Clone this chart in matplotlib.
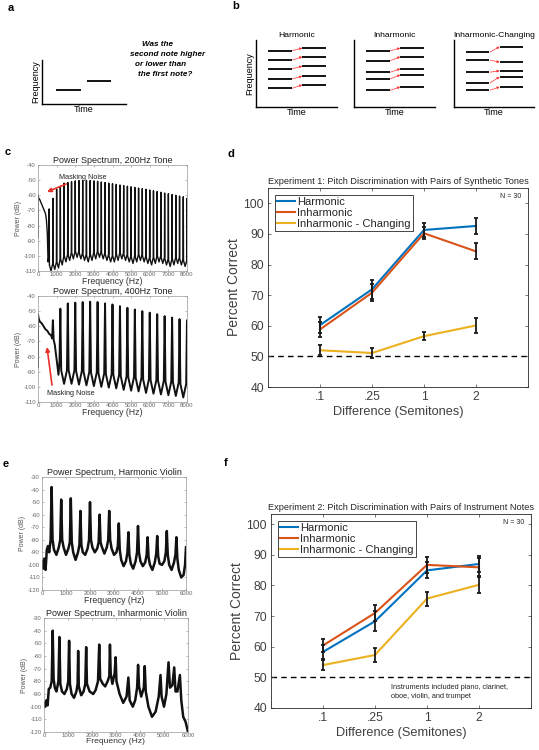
import matplotlib
matplotlib.use('Agg')
import matplotlib.pyplot as plt
import numpy as np

plt.rcParams['font.family'] = ['Liberation Sans', 'DejaVu Sans']
plt.rcParams['axes.unicode_minus'] = False

# ---------------- data ----------------
# panel a: two notes (axis fractions)
note_x0 = [0.17, 0.54]
note_x1 = [0.46, 0.82]
note_y = [0.32, 0.52]

# panel b: partial levels before / after (axis fractions)
schem_titles = ['Harmonic', 'Inharmonic', 'Inharmonic-Changing']
schem_before = [[0.84, 0.70, 0.57, 0.42, 0.28],
                [0.84, 0.69, 0.52, 0.42, 0.25],
                [0.82, 0.70, 0.52, 0.36, 0.25]]
schem_after = [[0.88, 0.75, 0.61, 0.46, 0.33],
               [0.88, 0.75, 0.57, 0.48, 0.30],
               [0.90, 0.67, 0.54, 0.45, 0.30]]

# panel c: 200 Hz tone spectrum
t200_noise_f = [0, 0, 40, 100, 200, 300, 400, 450, 500, 540]
t200_noise_db = [-88, -60, -62, -63, -66, -69, -72, -76, -85, -104]
t200_peak_f = [600, 800, 1000, 1200, 1400, 1600, 1800, 2000, 2200, 2400,
               2600, 2800, 3000, 3200, 3400, 3600, 3800, 4000, 4200, 4400,
               4600, 4800, 5000, 5200, 5400, 5600, 5800, 6000, 6200, 6400,
               6600, 6800, 7000, 7200, 7400, 7600, 7800, 8000]
t200_peak_db = [-69, -62, -56, -54, -52, -51.5, -51, -50.5, -50.3, -50.2,
                -50.2, -50.3, -50.5, -50.8, -51.2, -51.6, -52, -52.4, -52.8, -53.2,
                -53.6, -54, -54.4, -54.8, -55.2, -55.6, -56, -56.5, -57, -57.5,
                -58, -58.5, -59, -59.5, -60, -60.5, -61, -62]
t200_trough_db = [-110, -109, -108, -106, -104, -103, -102, -101, -102, -103,
                  -104, -103, -102, -101, -102, -103, -104, -104, -103, -102,
                  -103, -104, -105, -104, -103, -104, -105, -106, -105, -104,
                  -105, -106, -107, -106, -105, -106, -107, -108]

# panel c: 400 Hz tone spectrum
t400_noise_f = [0, 0, 40, 100, 200, 300, 400, 500, 600, 700, 760, 800, 840, 900, 1000, 1100]
t400_noise_db = [-87, -52, -55, -57, -58, -60, -62, -63, -65, -66, -68, -56, -69, -72, -82, -92]
t400_peak_f = [1200, 1600, 2000, 2400, 2800, 3200, 3600, 4000, 4400, 4800,
               5200, 5600, 6000, 6400, 6800, 7200, 7600, 8000]
t400_peak_db = [-48.4, -44.9, -44.4, -44, -43.8, -44, -44.9, -45.6, -46.7, -47.8,
                -48.9, -50, -51, -52, -53.3, -54.3, -55.3, -56]
t400_trough_db = [-98, -98, -98.5, -99, -99.5, -100, -100.5, -101, -102, -102.5,
                  -103, -104, -104.5, -105, -105.5, -106, -107, -108]

# panel e: violin spectra (traced)
vh_f = [0, 50, 100, 150, 200, 250, 300, 360, 400, 440, 500, 600, 700, 760, 800,
        840, 900, 1000, 1100, 1160, 1200, 1240, 1300, 1400, 1500, 1560, 1600,
        1640, 1700, 1800, 1900, 1960, 2000, 2040, 2100, 2200, 2300, 2360, 2400,
        2440, 2500, 2600, 2700, 2760, 2800, 2840, 2900, 3000, 3100, 3160, 3200,
        3240, 3300, 3400, 3500, 3560, 3600, 3640, 3700, 3800, 3900, 3960, 4000,
        4040, 4100, 4200, 4300, 4360, 4400, 4440, 4500, 4600, 4700, 4760, 4800,
        4840, 4900, 5000, 5100, 5160, 5200, 5240, 5300, 5400, 5500, 5560, 5600,
        5640, 5700, 5800, 5900, 5960, 6000]
vh_db = [-97, -103, -95, -104, -88, -85, -90, -80, -38, -80, -88, -92, -86, -80, -48,
         -80, -86, -92, -87, -82, -47, -82, -90, -96, -90, -84, -57,
         -84, -90, -92, -87, -80, -50, -80, -86, -90, -87, -82, -60,
         -82, -86, -91, -86, -80, -57, -80, -87, -92, -90, -85, -67,
         -88, -96, -101, -97, -90, -74, -92, -99, -103, -97, -90, -69,
         -90, -97, -101, -98, -92, -78, -94, -100, -104, -98, -91, -77,
         -93, -99, -100, -97, -90, -73, -92, -100, -104, -98, -92, -78,
         -95, -104, -110, -108, -100, -86]

vi_f = [0, 50, 100, 150, 200, 260, 320, 363, 400, 450, 520, 600, 642, 680, 750,
        850, 950, 1010, 1046, 1080, 1150, 1250, 1350, 1400, 1423, 1450, 1550,
        1650, 1720, 1757, 1790, 1900, 2050, 2150, 2250, 2301, 2340, 2450, 2550,
        2650, 2720, 2748, 2780, 2850, 2940, 2985, 3020, 3150, 3300, 3440, 3515,
        3570, 3700, 3800, 3880, 3920, 3960, 4050, 4160, 4198, 4240, 4350, 4500,
        4650, 4780, 4854, 4900, 5000, 5100, 5188, 5250, 5350, 5425, 5480, 5560,
        5662, 5720, 5800, 5900, 6000]
vi_db = [-97, -100, -95, -99, -86, -85, -80, -40, -78, -85, -88, -80, -45, -82, -88,
         -90, -86, -80, -48, -82, -90, -93, -88, -82, -56, -84, -91,
         -88, -82, -53, -82, -88, -90, -87, -80, -51, -78, -82, -84,
         -80, -76, -51, -74, -82, -74, -61, -80, -90, -97, -92, -77,
         -95, -100, -95, -85, -67, -84, -92, -85, -68, -88, -100, -108,
         -104, -92, -75, -92, -100, -90, -65, -85, -83, -69, -88, -88,
         -75, -95, -108, -112, -120]

# panels d and f: behavioural results
diff_labels = ['.1', '.25', '1', '2']
series_names = ['Harmonic', 'Inharmonic', 'Inharmonic - Changing']
series_colors = ['#0072BD', '#D95319', '#EDB120']

exp1_mean = [[60.2, 71.9, 91.3, 92.6],
             [58.8, 70.8, 90.2, 84.3],
             [52.0, 51.1, 56.6, 60.1]]
exp1_err = [[2.6, 3.2, 2.2, 2.5],
            [2.5, 2.8, 2.0, 2.6],
            [1.7, 1.6, 1.4, 2.3]]

exp2_mean = [[58.3, 68.3, 84.9, 87.0],
             [60.4, 71.0, 86.7, 85.9],
             [54.0, 57.3, 75.7, 80.2]]
exp2_err = [[2.2, 3.3, 2.6, 2.5],
            [2.0, 2.6, 2.5, 3.0],
            [1.6, 2.2, 2.3, 2.8]]

# ---------------- figure ----------------
W, H = 539, 750
fig = plt.figure(figsize=(W / 100, H / 100), dpi=100)


def add_ax(l, t, r, b):
    return fig.add_axes([l / W, 1 - b / H, (r - l) / W, (b - t) / H])


def schematic(ax):
    ax.set_xlim(0, 1)
    ax.set_ylim(0, 1)
    for s in ['top', 'right']:
        ax.spines[s].set_visible(False)
    for s in ['left', 'bottom']:
        ax.spines[s].set_linewidth(1.0)
    ax.set_xticks([])
    ax.set_yticks([])
    ax.set_facecolor('none')


def panel_label(x, y, s):
    fig.text(x / W, 1 - y / H, s, fontsize=8, fontweight='bold', ha='left', va='center')


# panel a
ax = add_ax(42, 60, 126, 104)
schematic(ax)
ax.hlines(note_y, note_x0, note_x1, color='k', lw=1.3)
ax.set_ylabel('Frequency', fontsize=6.5, labelpad=1)
ax.set_xlabel('Time', fontsize=6.5, labelpad=1)
question = ['Was the', 'second note higher', 'or lower than', 'the first note?']
q_xy = [(142, 44), (130, 54), (135, 64), (138, 75)]
for s, (qx, qy) in zip(question, q_xy):
    fig.text(qx / W, 1 - qy / H, s, fontsize=5.9, fontweight='bold', style='italic',
             ha='left', va='center')

# panel b
b_boxes = [(256, 40, 337, 107), (354, 40, 435, 107), (454, 40, 534, 107)]
for i, box in enumerate(b_boxes):
    ax = add_ax(*box)
    schematic(ax)
    ax.hlines(schem_before[i], 0.15, 0.44, color='k', lw=1.3)
    ax.hlines(schem_after[i], 0.57, 0.86, color='k', lw=1.3)
    for yb, ya in zip(schem_before[i], schem_after[i]):
        ax.annotate('', xy=(0.57, ya), xytext=(0.45, yb),
                    arrowprops=dict(arrowstyle='-|>', color='#ff3030', lw=0.5,
                                    mutation_scale=3.5, shrinkA=0, shrinkB=0))
    ax.set_title(schem_titles[i], fontsize=6.1, pad=2)
    ax.set_xlabel('Time', fontsize=6.5, labelpad=1)
    if i == 0:
        ax.set_ylabel('Frequency', fontsize=6.5, labelpad=1)


def spectrum_style(ax, xmax, xstep, ylo, yhi, xlabelpad=0, xfont=6.3):
    ax.set_xlim(0, xmax)
    ax.set_ylim(ylo, yhi)
    ax.set_xticks(np.arange(0, xmax + 1, xstep))
    ax.set_yticks(np.arange(ylo, yhi + 1, 10))
    ax.tick_params(direction='in', length=1.5, width=0.4, labelsize=4.3,
                   labelcolor='#666666', color='#888888', pad=1.5,
                   top=True, right=True)
    ax.tick_params(axis='x', pad=1)
    for s in ax.spines.values():
        s.set_color('#999999')
        s.set_linewidth(0.5)
    ax.set_xlabel('Frequency (Hz)', fontsize=xfont, color='#333333', labelpad=xlabelpad)
    ax.set_ylabel('Power (dB)', fontsize=5, color='#555555', labelpad=1)


def tone_trace(noise_f, noise_db, peak_f, peak_db, trough_db, half, shoulder, rise):
    # each peak: narrow tip, then a rounded base down to the trough between harmonics
    f = list(noise_f)
    d = list(noise_db)
    prev = noise_db[-1]
    for pf, pd, td in zip(peak_f, peak_db, trough_db):
        f += [pf - shoulder, pf, pf + shoulder, pf + half]
        d += [max(prev, td) + rise, pd, td + rise, td]
        prev = td
    return f, d


# panel c
ax = add_ax(38, 165, 187, 271)
f, d = tone_trace(t200_noise_f, t200_noise_db, t200_peak_f, t200_peak_db,
                  t200_trough_db, 100, 12, 4)
ax.plot(f, d, color='#111111', lw=1.0)
spectrum_style(ax, 8000, 1000, -110, -40)
ax.set_title('Power Spectrum, 200Hz Tone', fontsize=6.5, color='#222222', pad=1.5)
ax.annotate('Masking Noise', xy=(483, -57.8), xytext=(1127, -48),
            fontsize=5.2, color='#222222', va='center', ha='left',
            arrowprops=dict(arrowstyle='-|>', color='#e8312a', lw=1.2,
                            mutation_scale=6, shrinkA=1, shrinkB=0))

ax = add_ax(38, 296, 187, 402)
f, d = tone_trace(t400_noise_f, t400_noise_db, t400_peak_f, t400_peak_db,
                  t400_trough_db, 200, 45, 9)
ax.plot(f, d, color='#111111', lw=1.4)
spectrum_style(ax, 8000, 1000, -110, -40)
ax.set_title('Power Spectrum, 400Hz Tone', fontsize=6.5, color='#222222', pad=1.5)
ax.annotate('', xy=(483, -73.7), xytext=(752, -98.8),
            arrowprops=dict(arrowstyle='-|>', color='#e8312a', lw=1.2,
                            mutation_scale=6, shrinkA=0, shrinkB=0))
ax.text(483, -104.7, 'Masking Noise', fontsize=5.2, color='#222222', va='center', ha='left')

# panel e
ax = add_ax(42, 477, 186, 590)
ax.plot(vh_f, vh_db, color='#111111', lw=1.8)
spectrum_style(ax, 6000, 1000, -120, -30)
ax.set_title('Power Spectrum, Harmonic Violin', fontsize=6.5, color='#222222', pad=1.5)

ax = add_ax(44, 618, 188, 732)
ax.plot(vi_f, vi_db, color='#111111', lw=1.8)
spectrum_style(ax, 6000, 1000, -120, -30, xlabelpad=0, xfont=6.1)
ax.set_title('Power Spectrum, Inharmonic Violin', fontsize=6.5, color='#222222', pad=1.5)


def results(ax, means, errs, title, ytop, note=None):
    x = np.arange(1, len(diff_labels) + 1)
    for m, name, c in zip(means, series_names, series_colors):
        ax.plot(x, m, color=c, lw=1.5, label=name)
    for m, e in zip(means, errs):
        ax.errorbar(x, m, yerr=e, fmt='none', ecolor='#1a1a1a', elinewidth=1.3,
                    capsize=1.5, capthick=1.3, zorder=4)
    ax.axhline(50, color='k', lw=1.0, ls=(0, (4, 3)), zorder=1)
    ax.set_xlim(0, 5)
    ax.set_ylim(40, ytop)
    ax.set_xticks(x)
    ax.set_xticklabels(diff_labels)
    ax.set_yticks(np.arange(40, 101, 10))
    ax.tick_params(direction='in', length=2.5, width=0.5, labelsize=8.7,
                   labelcolor='#404040', color='#404040', top=True, right=True, pad=3)
    for s in ax.spines.values():
        s.set_color('#262626')
        s.set_linewidth(0.6)
    ax.set_ylabel('Percent Correct', fontsize=10, color='#404040', labelpad=2)
    ax.set_xlabel('Difference (Semitones)', fontsize=9.2, color='#404040', labelpad=2)
    ax.set_title(title, fontsize=6.6, color='#262626', pad=3)
    ax.text(0.975, 0.975, 'N = 30', transform=ax.transAxes, fontsize=5,
            ha='right', va='top', color='#262626')
    leg = ax.legend(loc='upper left', bbox_to_anchor=(0.027, 0.966), borderaxespad=0,
                    fontsize=8, handlelength=1.6, handletextpad=0.2, labelspacing=0.1,
                    borderpad=0.2, fancybox=False, framealpha=1, edgecolor='#262626')
    leg.get_frame().set_linewidth(0.6)
    for t in leg.get_texts():
        t.set_color('#262626')
    if note:
        ax.text(0.46, 0.085, note, transform=ax.transAxes, fontsize=5.3,
                ha='left', va='center', color='#262626', linespacing=1.4)


ax = add_ax(268, 188, 528, 387)
results(ax, exp1_mean, exp1_err,
        'Experiment 1: Pitch Discrimination with Pairs of Synthetic Tones', 105)

ax = add_ax(271, 514, 531, 708)
results(ax, exp2_mean, exp2_err,
        'Experiment 2: Pitch Discrimination with Pairs of Instrument Notes', 103.3,
        note='Instruments included piano, clarinet,\noboe, violin, and trumpet')

panel_label(8, 8, 'a')
panel_label(232, 6, 'b')
panel_label(5, 152, 'c')
panel_label(228, 154, 'd')
panel_label(3, 464, 'e')
panel_label(224, 463, 'f')

fig.savefig('out.png', dpi=100)
